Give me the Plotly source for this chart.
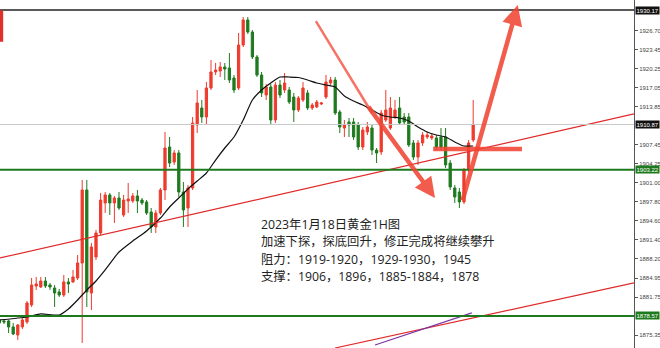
import plotly.graph_objects as go

# ---------------- data ----------------
idx = list(range(-1, 103))
opens = [1877.90,1877.73,1877.73,1876.72,1875.37,1876.72,1877.56,1880.43,1883.63,1883.46,
         1884.47,1883.80,1883.29,1882.62,1882.11,1884.31,1884.31,1884.98,1887.51,1899.82,
         1882.45,1888.52,1892.57,1897.63,1898.98,1897.63,1898.47,1895.60,1897.97,1897.97,
         1898.81,1898.13,1897.80,1896.11,1893.58,1895.94,1899.82,1907.07,1904.54,1906.06,
         1899.48,1896.78,1900.16,1910.78,1913.65,1912.13,1917.02,1919.72,1919.89,1920.56,
         1920.39,1918.71,1917.02,1924.27,1928.49,1926.46,1922.25,1919.21,1915.84,1917.19,
         1911.62,1917.53,1916.68,1916.68,1915.50,1913.31,1915.00,1916.18,1913.65,1913.82,
         1914.32,1915.50,1917.86,1918.37,1912.97,1910.27,1911.29,1911.29,1910.78,1907.07,
         1909.60,1910.27,1906.56,1906.23,1911.62,1910.27,1912.13,1913.65,1912.13,1912.13,
         1907.75,1905.38,1907.75,1908.76,1908.59,1908.59,1908.76,1908.76,1904.37,1900.16,
         1899.48,1897.80,1903.19,1908.25]
highs = [1878.23,1878.07,1877.90,1877.39,1877.22,1878.23,1881.10,1884.98,1885.15,1885.15,
         1885.15,1884.14,1883.80,1883.12,1885.49,1884.98,1886.33,1888.86,1901.51,1901.51,
         1890.88,1893.08,1899.31,1899.48,1899.31,1898.81,1899.48,1898.98,1901.00,1899.31,
         1899.82,1898.47,1898.13,1896.78,1896.45,1900.16,1909.60,1908.76,1906.56,1906.56,
         1901.17,1900.66,1912.13,1916.68,1915.00,1918.03,1921.74,1921.24,1921.40,1921.24,
         1922.92,1919.21,1926.30,1928.99,1928.99,1926.80,1922.59,1919.72,1917.70,1917.70,
         1918.03,1918.37,1919.55,1917.19,1916.18,1915.67,1918.03,1916.68,1914.49,1915.00,
         1914.66,1919.21,1918.88,1918.88,1913.31,1911.62,1911.96,1911.96,1911.29,1910.44,
         1911.29,1910.78,1906.90,1913.31,1916.68,1915.50,1915.00,1915.50,1912.80,1912.80,
         1908.25,1908.25,1909.60,1909.60,1909.43,1909.09,1910.27,1910.27,1904.88,1900.66,
         1900.16,1903.53,1908.25,1915.00]
lows = [1873.51,1877.22,1875.70,1875.37,1874.53,1876.38,1877.22,1880.09,1882.96,1883.29,
        1883.29,1882.96,1880.09,1881.78,1881.78,1882.45,1884.14,1884.64,1874.02,1880.09,
        1879.58,1888.02,1892.23,1895.94,1895.60,1894.26,1896.45,1895.27,1895.94,1897.63,
        1895.94,1897.29,1895.60,1892.57,1892.57,1895.60,1898.13,1903.70,1904.04,1898.64,
        1893.58,1893.58,1899.82,1909.43,1911.12,1910.78,1916.68,1919.21,1918.88,1918.37,
        1917.86,1916.18,1916.68,1923.93,1926.13,1921.91,1918.88,1915.50,1915.00,1910.95,
        1911.12,1915.33,1916.18,1914.32,1911.29,1912.97,1914.66,1913.31,1913.31,1913.65,
        1914.15,1915.17,1917.53,1912.47,1909.43,1908.76,1908.76,1908.25,1906.56,1906.56,
        1909.09,1905.72,1904.37,1905.72,1911.29,1909.94,1911.79,1910.78,1910.95,1907.07,
        1904.88,1904.04,1907.24,1908.42,1908.25,1906.56,1906.56,1903.53,1899.82,1897.63,
        1896.78,1897.46,1902.86,1907.91]
closes = [1877.39,1877.56,1876.72,1875.54,1877.05,1877.90,1880.76,1883.80,1883.97,1884.47,
          1883.63,1883.46,1882.45,1882.11,1884.31,1883.97,1885.15,1887.51,1899.82,1882.62,
          1890.21,1892.57,1898.13,1898.98,1897.63,1898.47,1896.78,1898.13,1898.30,1898.81,
          1897.97,1897.63,1895.94,1893.58,1895.94,1899.82,1906.90,1904.37,1906.06,1899.48,
          1896.45,1900.16,1911.12,1914.49,1912.13,1917.02,1919.72,1920.06,1920.56,1920.22,
          1918.37,1916.68,1924.27,1928.49,1926.46,1922.25,1919.21,1916.18,1917.19,1911.62,
          1917.53,1915.84,1917.86,1914.66,1913.31,1915.33,1917.02,1913.65,1914.15,1914.66,
          1914.49,1918.03,1918.37,1912.80,1910.44,1910.78,1910.78,1908.76,1907.07,1909.94,
          1910.44,1906.56,1906.06,1912.80,1913.31,1913.65,1913.31,1911.12,1911.29,1907.41,
          1905.38,1907.75,1909.09,1909.09,1908.93,1907.07,1907.07,1904.04,1900.33,1898.64,
          1897.80,1903.19,1907.75,1910.87]

ma_idx = [-1, 5, 8, 12, 14, 16, 18, 20, 22, 25, 28, 31, 34, 36, 38, 40, 42, 44, 46, 48,
          50, 52, 54, 56, 58, 60, 62, 64, 66, 68, 70, 72, 74, 76, 78, 80, 82, 84, 86, 88,
          90, 92, 94, 96, 98, 100, 102]
ma_val = [1877.89, 1878.40, 1878.91, 1878.74, 1879.75, 1881.27, 1882.95, 1884.47, 1886.33,
          1889.36, 1891.22, 1892.90, 1895.09, 1896.95, 1898.47, 1899.99, 1901.33, 1902.68,
          1904.87, 1906.90, 1908.75, 1911.62, 1915.00, 1916.68, 1917.86, 1918.87, 1918.87,
          1918.79, 1918.37, 1917.86, 1917.52, 1917.18, 1915.67, 1914.82, 1914.15, 1913.31,
          1912.46, 1912.13, 1911.96, 1911.45, 1910.44, 1909.60, 1909.09, 1908.75, 1907.91,
          1907.24, 1907.24]

# horizontal levels
level_black = 1930.17
level_last = 1910.87
level_green = [1903.22, 1878.57]

# y axis ticks
tick_vals = [1926.70, 1923.45, 1920.25, 1917.05, 1913.85, 1907.45, 1904.25, 1901.00,
             1897.80, 1894.60, 1891.40, 1888.20, 1884.95, 1881.75, 1875.35]
tick_text = ["1926.70", "1923.45", "1920.25", "1917.05", "1913.85", "1907.45", "1904.25",
             "1901.00", "1897.80", "1894.60", "1891.40", "1888.20", "1884.95", "1881.75",
             "1875.35"]

# drawn trend lines (x in bar index, y in price)
trend_main_x = [-0.87, 136.96]
trend_main_y = [1888.35, 1912.64]
trend_low_x = [71.96, 136.96]
trend_low_y = [1873.17, 1884.14]
purple_x = [80.65, 101.7]
purple_y = [1873.68, 1879.10]

# big red arrows
arrow_down_thin_x = [67.8, 80.0]          # thin upper part of the down arrow
arrow_down_thin_y = [1928.3, 1912.8]
arrow_down = (79.0, 1914.1, 93.7, 1898.47)  # tail_x, tail_y, head_x, head_y
arrow_up = (99.6, 1897.80, 111.7, 1931.02)
hbar_x = [93.3, 112.6]
hbar_y = [1906.73, 1906.73]

note_lines = ["2023年1月18日黄金1H图",
              "加速下探，探底回升，修正完成将继续攀升",
              "阻力：1919-1920，1929-1930，1945",
              "支撑：1906，1896，1885-1884，1878"]

# ---------------- figure ----------------
RED = "#ee3b2d"
GREEN = "#1f7a1f"
ARROW = "rgba(241,70,52,0.88)"

fig = go.Figure()

fig.add_trace(go.Candlestick(
    x=idx, open=opens, high=highs, low=lows, close=closes,
    increasing=dict(line=dict(color=RED, width=1), fillcolor=RED),
    decreasing=dict(line=dict(color=GREEN, width=1), fillcolor=GREEN),
    whiskerwidth=0, showlegend=False, hoverinfo="skip"))

fig.add_trace(go.Scatter(x=ma_idx, y=ma_val, mode="lines",
                         line=dict(color="#111111", width=1.2, shape="spline", smoothing=0.6),
                         showlegend=False, hoverinfo="skip"))

fig.add_trace(go.Scatter(x=trend_main_x, y=trend_main_y, mode="lines",
                         line=dict(color="#e02a2a", width=1.2), showlegend=False))
fig.add_trace(go.Scatter(x=trend_low_x, y=trend_low_y, mode="lines",
                         line=dict(color="#e02a2a", width=1.2), showlegend=False))
fig.add_trace(go.Scatter(x=purple_x, y=purple_y, mode="lines",
                         line=dict(color="#7a35a8", width=1.2), showlegend=False))
fig.add_trace(go.Scatter(x=hbar_x, y=hbar_y, mode="lines",
                         line=dict(color=ARROW, width=4.5), showlegend=False))
fig.add_trace(go.Scatter(x=arrow_down_thin_x, y=arrow_down_thin_y, mode="lines",
                         line=dict(color="rgba(241,70,52,0.75)", width=2.5), showlegend=False))

shapes = [
    dict(type="line", xref="paper", x0=0, x1=1, yref="y", y0=level_black, y1=level_black,
         line=dict(color="#222222", width=1.5)),
    dict(type="line", xref="paper", x0=0, x1=1, yref="y", y0=level_last, y1=level_last,
         line=dict(color="#c8c8c8", width=1)),
]
for g in level_green:
    shapes.append(dict(type="line", xref="paper", x0=0, x1=1, yref="y", y0=g, y1=g,
                       line=dict(color="#1d7a1d", width=2)))
# small red marker at the top-left corner
shapes.append(dict(type="rect", xref="paper", x0=0, x1=0.005, yref="paper", y0=0.88, y1=0.97,
                   fillcolor="#e0302a", line=dict(width=0)))

annotations = []
for (tx, ty, hx, hy) in (arrow_down, arrow_up):
    annotations.append(dict(x=hx, y=hy, ax=tx, ay=ty, xref="x", yref="y", axref="x", ayref="y",
                            showarrow=True, arrowhead=2, arrowsize=0.9, arrowwidth=4.5,
                            arrowcolor=ARROW, text=""))

# price boxes on the axis
for val, bg in ((level_black, "#111111"), (level_last, "#111111"),
                (level_green[0], "#1d7a1d"), (level_green[1], "#1d7a1d")):
    annotations.append(dict(x=1, xref="paper", xanchor="left", xshift=1, y=val, yref="y",
                            text=f"{val:.2f}", showarrow=False, bgcolor=bg,
                            font=dict(color="white", size=6, family="Arial"),
                            borderpad=0.5))

# note text, one annotation per line
line_centers_px = [224, 241.5, 259, 276.5]
for txt, cy in zip(note_lines, line_centers_px):
    annotations.append(dict(x=260 / 634, y=1 - cy / 348, xref="paper", yref="paper",
                            xanchor="left", yanchor="middle", align="left", showarrow=False,
                            text=txt, borderpad=0,
                            font=dict(family="Open Sans, Noto Sans CJK SC", size=12.3,
                                      color="#222222")))

fig.update_layout(
    width=660, height=348,
    margin=dict(l=0, r=26, t=0, b=0),
    paper_bgcolor="white", plot_bgcolor="white",
    shapes=shapes, annotations=annotations, showlegend=False,
    xaxis=dict(range=[-0.87, 136.96], visible=False, rangeslider=dict(visible=False),
               fixedrange=True),
    yaxis=dict(range=[1873.17, 1931.86], side="right", showgrid=False, zeroline=False,
               showline=True, linecolor="#555555", linewidth=1,
               ticks="outside", ticklen=3, tickcolor="#555555",
               tickvals=tick_vals, ticktext=tick_text, automargin=False,
               tickfont=dict(size=6, color="#444444", family="Arial")),
)

fig.write_html("out.html")
